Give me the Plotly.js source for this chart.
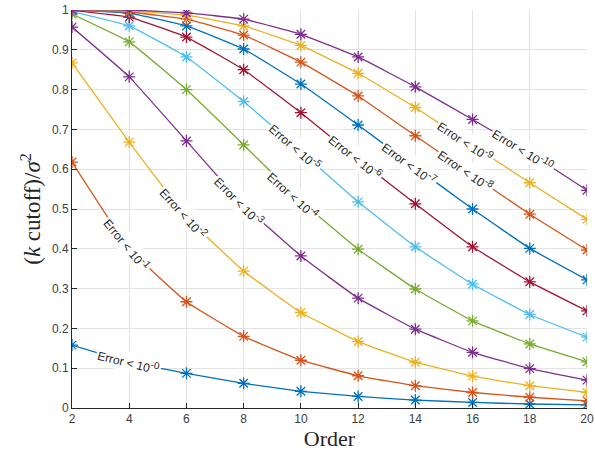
<!DOCTYPE html>
<html>
<head>
<meta charset="utf-8">
<script src="https://cdn.plot.ly/plotly-3.0.1.min.js"></script>
<style>html,body{margin:0;padding:0;background:#fff;}#plot{width:595px;height:460px;}</style>
</head>
<body>
<div id="plot"></div>
<script>
// Data
var order = [2, 4, 6, 8, 10, 12, 14, 16, 18, 20];
var err0  = [0.158, 0.115, 0.087, 0.062, 0.042, 0.029, 0.020, 0.014, 0.010, 0.008];
var err1  = [0.618, 0.400, 0.267, 0.180, 0.120, 0.081, 0.056, 0.039, 0.027, 0.018];
var err2  = [0.867, 0.668, 0.480, 0.344, 0.240, 0.167, 0.115, 0.080, 0.056, 0.039];
var err3  = [0.957, 0.832, 0.671, 0.510, 0.382, 0.276, 0.198, 0.140, 0.099, 0.070];
var err4  = [0.990, 0.920, 0.800, 0.661, 0.520, 0.399, 0.299, 0.219, 0.161, 0.116];
var err5  = [0.996, 0.960, 0.882, 0.770, 0.645, 0.518, 0.405, 0.311, 0.235, 0.178];
var err6  = [0.999, 0.982, 0.932, 0.850, 0.742, 0.625, 0.513, 0.405, 0.317, 0.244];
var err7  = [1.000, 0.992, 0.960, 0.902, 0.814, 0.711, 0.605, 0.500, 0.401, 0.322];
var err8  = [1.000, 0.995, 0.977, 0.937, 0.869, 0.784, 0.684, 0.585, 0.487, 0.397];
var err9  = [1.000, 0.998, 0.987, 0.960, 0.911, 0.841, 0.755, 0.660, 0.566, 0.474];
var err10 = [1.000, 1.000, 0.993, 0.977, 0.939, 0.882, 0.807, 0.725, 0.640, 0.547];
var exponents = ["-0", "-1", "-2", "-3", "-4", "-5", "-6", "-7", "-8", "-9", "-10"];

// Label placement (positions only)
var labelX = [3.96, 3.92, 5.88, 7.87, 9.75, 9.8, 11.9, 13.8, 15.77, 15.77, 17.77];
var labelY = [0.116, 0.41, 0.49, 0.52, 0.535, 0.657, 0.631, 0.615, 0.596, 0.67, 0.65];
var labelIdx = [1, 1, 2, 3, 4, 4, 5, 6, 7, 7, 8];

var series = [err0, err1, err2, err3, err4, err5, err6, err7, err8, err9, err10];
var palette = ["#0072BD", "#D95319", "#EDB120", "#7E2F8E", "#77AC30", "#4DBEEE", "#A2142F"];

var W = 595, H = 460, mL = 72, mR = 8, mT = 10, mB = 52;
var pxX = (W - mL - mR) / 18, pxY = (H - mT - mB) / 1;

var traces = series.map(function (s, i) {
  var c = palette[i % palette.length];
  return {
    x: order, y: s, type: "scatter", mode: "lines+markers",
    line: {color: c, width: 1.3, shape: "spline", smoothing: 0.3},
    marker: {symbol: "asterisk-open", size: 10, color: c, line: {color: c, width: 1.3}},
    showlegend: false, hoverinfo: "skip"
  };
});

var annotations = series.map(function (s, i) {
  var k = labelIdx[i];
  var dy = (s[k - 1] - s[k + 1]) * pxY;
  var dx = (order[k + 1] - order[k - 1]) * pxX;
  var ang = Math.atan2(dy, dx) * 180 / Math.PI;
  return {
    x: labelX[i], y: labelY[i], xref: "x", yref: "y",
    text: "Error &lt; 10<sup><span style='font-size:10px'>" + exponents[i] + "</span></sup>",
    showarrow: false, textangle: ang,
    bgcolor: "#ffffff", borderpad: 1,
    font: {family: "Liberation Sans, Arial, sans-serif", size: 12, color: "#262626"}
  };
});

var layout = {
  width: W, height: H,
  margin: {l: mL, r: mR, t: mT, b: mB},
  paper_bgcolor: "#ffffff", plot_bgcolor: "#ffffff",
  xaxis: {
    range: [2, 20], tickvals: order, ticks: "inside", ticklen: 5, tickcolor: "#262626",
    showline: true, linecolor: "#262626", linewidth: 1, mirror: false,
    showgrid: true, gridcolor: "#e3e3e3", gridwidth: 1, zeroline: false,
    tickfont: {family: "Liberation Sans, Arial, sans-serif", size: 12, color: "#404040"},
    title: {text: "Order", font: {family: "Liberation Serif, Times New Roman, serif", size: 22, color: "#262626"}, standoff: 4}
  },
  yaxis: {
    range: [0, 1], dtick: 0.1, ticks: "inside", ticklen: 5, tickcolor: "#262626",
    showline: true, linecolor: "#262626", linewidth: 1, mirror: false,
    showgrid: true, gridcolor: "#e3e3e3", gridwidth: 1, zeroline: false,
    tickfont: {family: "Liberation Sans, Arial, sans-serif", size: 12, color: "#404040"},
    title: {text: "(<i>k</i> cutoff)/<i>σ</i><sup>2</sup>", font: {family: "Liberation Serif, Times New Roman, serif", size: 23, color: "#262626"}, standoff: 4}
  },
  annotations: annotations
};

Plotly.newPlot("plot", traces, layout, {displayModeBar: false, staticPlot: true});
</script>
</body>
</html>
